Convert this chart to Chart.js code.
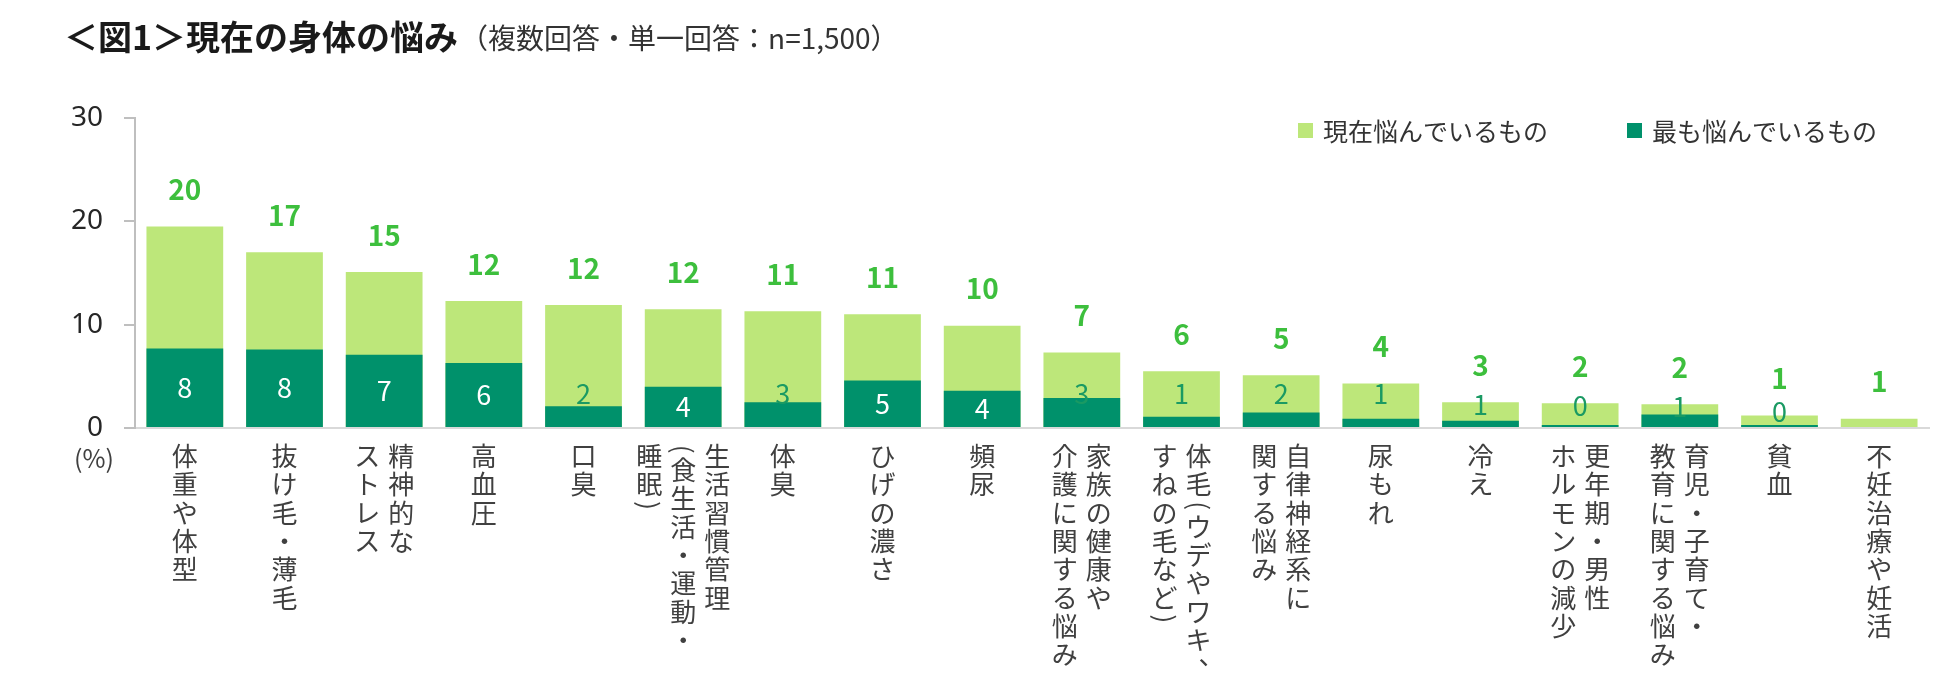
<!DOCTYPE html>
<html lang="ja">
<head>
<meta charset="utf-8">
<title>現在の身体の悩み</title>
<script src="https://cdn.jsdelivr.net/npm/chart.js@4.4.1/dist/chart.umd.min.js"></script>
<style>
  html, body { margin: 0; padding: 0; background: #fff; }
  #wrap { position: relative; width: 1950px; height: 689px; }
</style>
</head>
<body>
<div id="wrap"><canvas id="chart"></canvas></div>
<script>
// categories (\n = next vertical column, right to left)
const categories = [
  '体重や体型', '抜け毛・薄毛', '精神的な\nストレス', '高血圧', '口臭',
  '生活習慣管理\n(食生活・運動・\n睡眠)', '体臭', 'ひげの濃さ', '頻尿',
  '家族の健康や\n介護に関する悩み', '体毛(ウデやワキ、\nすねの毛など)',
  '自律神経系に\n関する悩み', '尿もれ', '冷え', '更年期・男性\nホルモンの減少',
  '育児・子育て・\n教育に関する悩み', '貧血', '不妊治療や妊活'
];
// 現在悩んでいるもの (%)
const currentValues = [19.5, 17.0, 15.1, 12.3, 11.9, 11.5, 11.3, 11.0, 9.9, 7.3, 5.5, 5.1, 4.3, 2.5, 2.4, 2.3, 1.2, 0.9];
// 最も悩んでいるもの (%)
const mostValues = [7.7, 7.6, 7.1, 6.3, 2.1, 4.0, 2.5, 4.6, 3.6, 2.9, 1.1, 1.5, 0.9, 0.7, 0.3, 1.3, 0.3, 0];
const yTicks = [0, 10, 20, 30];

const seriesNames = ['現在悩んでいるもの', '最も悩んでいるもの'];
const titleMain = '＜図1＞現在の身体の悩み';
const titleSub = '（複数回答・単一回答：n=1,500）';
const unitLabel = '(%)';

const LIGHT = '#bde77a';
const DARK = '#00916b';
const FONT = "'Noto Sans CJK JP', 'Noto Sans', sans-serif";

function drawVertical(ctx, text, x, top, cell, size) {
  let t = top;
  for (const ch of text) {
    if (ch === '(' || ch === ')') {
      ctx.save();
      ctx.translate(x, t + cell / 4);
      ctx.rotate(Math.PI / 2);
      ctx.fillText(ch, 0, 0);
      ctx.restore();
      t += cell / 2;
    } else if (ch === '、') {
      ctx.fillText(ch, x + size * 0.5, t + cell / 2 - size * 0.5);
      t += cell;
    } else {
      ctx.fillText(ch, x, t + cell / 2);
      t += cell;
    }
  }
}

const decorations = {
  id: 'decorations',
  afterDatasetsDraw(chart) {
    const {ctx, scales: {y}} = chart;
    ctx.save();
    ctx.textAlign = 'center';
    ctx.textBaseline = 'middle';

    // totals above the light bars
    ctx.font = 'bold 28px ' + FONT;
    ctx.fillStyle = '#3dbf3d';
    chart.getDatasetMeta(0).data.forEach((bar, i) => {
      ctx.fillText(String(Math.round(currentValues[i])), bar.x, bar.y - 37);
    });

    // values of the dark bars
    ctx.font = '27px ' + FONT;
    chart.getDatasetMeta(1).data.forEach((bar, i) => {
      const v = mostValues[i];
      if (!v) return;
      let ly;
      if (v >= 3.5) {
        ctx.fillStyle = '#ffffff';
        ly = (bar.y + bar.base) / 2;
      } else {
        ctx.fillStyle = '#1a9a63';
        ly = y.getPixelForValue(Math.min(3.3, Math.max(1.55, currentValues[i] - 0.25)));
      }
      ctx.fillText(String(Math.round(v)), bar.x, ly);
    });
    ctx.restore();
  },
  afterDraw(chart) {
    const {ctx, chartArea, scales: {x}} = chart;
    ctx.save();

    // title
    ctx.textAlign = 'left';
    ctx.textBaseline = 'middle';
    ctx.fillStyle = '#1a1a1a';
    ctx.font = 'bold 34px ' + FONT;
    ctx.fillText(titleMain, 64, 37);
    const w = ctx.measureText(titleMain).width;
    ctx.fillStyle = '#333333';
    ctx.font = '28px ' + FONT;
    ctx.fillText(titleSub, 64 + w + 2, 38);

    // legend
    ctx.font = '25px ' + FONT;
    const colors = chart.data.datasets.map(d => d.backgroundColor);
    const w1 = ctx.measureText(seriesNames[0]).width;
    const w2 = ctx.measureText(seriesNames[1]).width;
    const x2 = chartArea.right - 52 - w2 - 25;
    const x1 = x2 - 79 - w1 - 25;
    const ly = 131;
    [[x1, 0], [x2, 1]].forEach(([lx, k]) => {
      ctx.fillStyle = colors[k];
      ctx.fillRect(lx, ly - 8, 15, 15);
      ctx.fillStyle = '#333333';
      ctx.fillText(seriesNames[k], lx + 25, ly);
    });

    // unit
    ctx.textAlign = 'center';
    ctx.fillStyle = '#404040';
    ctx.font = '25px ' + FONT;
    ctx.fillText(unitLabel, 94, chartArea.bottom + 30);

    // vertical category labels
    ctx.font = '26px ' + FONT;
    ctx.fillStyle = '#404040';
    const top = chartArea.bottom + 14;
    categories.forEach((label, i) => {
      const cx = x.getPixelForValue(i);
      const cols = label.split('\n');
      const n = cols.length;
      cols.forEach((col, c) => {
        const colX = cx + ((n - 1) / 2 - c) * 34;
        drawVertical(ctx, col, colX, top, 28.3, 26);
      });
    });
    ctx.restore();
  }
};

new Chart(document.getElementById('chart'), {
  type: 'bar',
  data: {
    labels: categories,
    datasets: [
      {
        label: seriesNames[0],
        data: currentValues,
        backgroundColor: LIGHT,
        grouped: false,
        order: 2,
        categoryPercentage: 1,
        barPercentage: 0.77
      },
      {
        label: seriesNames[1],
        data: mostValues,
        backgroundColor: DARK,
        grouped: false,
        order: 1,
        categoryPercentage: 1,
        barPercentage: 0.77
      }
    ]
  },
  options: {
    responsive: true,
    maintainAspectRatio: false,
    animation: false,
    events: [],
    layout: { padding: { top: 118, left: 0, right: 21, bottom: 0 } },
    plugins: {
      legend: { display: false },
      title: { display: false },
      tooltip: { enabled: false }
    },
    scales: {
      x: {
        ticks: { display: false },
        grid: { display: false },
        border: { color: '#d9d9d9', width: 2 },
        afterFit(scale) { scale.height = 261; }
      },
      y: {
        min: 0,
        max: 30,
        afterBuildTicks(scale) { scale.ticks = yTicks.map(v => ({value: v})); },
        ticks: {
          padding: 21,
          color: '#262626',
          font: { family: "'Noto Sans', sans-serif", size: 28 }
        },
        grid: { drawOnChartArea: false, drawTicks: true, tickLength: 11, color: '#bfbfbf', lineWidth: 2 },
        border: { color: '#bfbfbf', width: 2 },
        afterFit(scale) { scale.width = 135; }
      }
    }
  },
  plugins: [decorations]
});
</script>
</body>
</html>
